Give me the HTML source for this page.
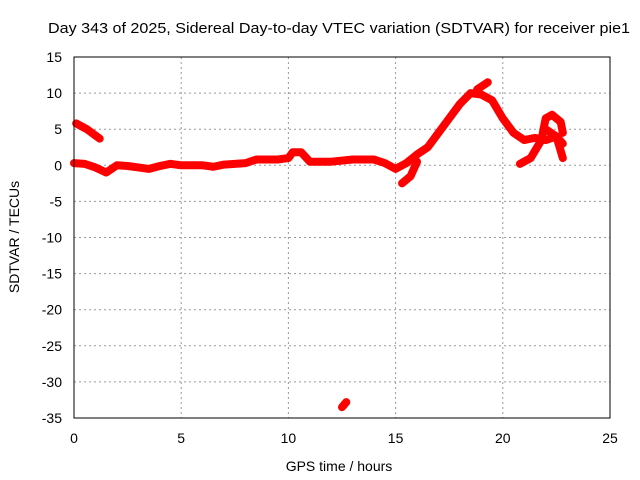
<!DOCTYPE html>
<html><head><meta charset="utf-8"><style>
body{margin:0;background:#fff}
svg{display:block;font-family:"Liberation Sans",sans-serif}
</style></head><body>
<svg id="chart" width="640" height="480">
<rect width="640" height="480" fill="#fff"/>
<text x="48" y="33" font-size="15" textLength="582" lengthAdjust="spacingAndGlyphs">Day 343 of 2025, Sidereal Day-to-day VTEC variation (SDTVAR) for receiver pie1</text>
<g id="grid"></g><g id="ticks"></g><g id="series"></g>
<rect x="74" y="57" width="536" height="361" fill="none" stroke="#000" stroke-width="1"/>
<text x="339" y="471" font-size="14" text-anchor="middle">GPS time / hours</text>
<text transform="translate(19,237) rotate(-90)" font-size="14" text-anchor="middle">SDTVAR / TECUs</text>
</svg>
<script>
const xTicks=[0,5,10,15,20,25];
const yTicks=[15,10,5,0,-5,-10,-15,-20,-25,-30,-35];
const mainTrace=[[0,0.3],[0.5,0.2],[1,-0.3],[1.5,-1],[2,0],[2.5,-0.1],[3,-0.3],[3.5,-0.5],[4,-0.1],[4.5,0.2],[5,0],[6,0],[6.5,-0.2],[7,0.1],[8,0.3],[8.5,0.8],[9.5,0.8],[10,1],[10.2,1.8],[10.6,1.8],[11,0.5],[12,0.5],[13,0.8],[14,0.8],[14.5,0.3],[15,-0.5],[15.5,0.3],[16,1.5],[16.5,2.5],[17,4.5],[17.5,6.5],[18,8.5],[18.5,10],[19,9.8],[19.5,9],[20,6.5],[20.5,4.5],[21,3.5],[21.5,3.8],[22,3.5],[22.5,4],[22.8,3]];
const dipBranch=[[15.3,-2.5],[15.7,-1.5],[16,0.5]];
const earlyBranch=[[0.1,5.8],[0.6,5],[1.2,3.7]];
const lateBranch1=[[20.8,0.2],[21.3,1],[21.8,3.5],[22,6.5],[22.3,7],[22.7,6],[22.8,4.5]];
const lateBranch2=[[22,5],[22.5,4],[22.8,1]];
const peakBranch=[[18.8,10.5],[19.3,11.5]];
const outlier=[[12.5,-33.5],[12.7,-32.8]];
const ns="http://www.w3.org/2000/svg";
const X=v=>74+v*536/25, Y=v=>57+(15-v)*361/50;
const grid=document.getElementById('grid'),ticks=document.getElementById('ticks'),ser=document.getElementById('series');
function mk(t,a,p){const e=document.createElementNS(ns,t);for(const k in a)e.setAttribute(k,a[k]);p.appendChild(e);return e;}
xTicks.forEach(t=>{
 if(t>0&&t<25){const g=mk('line',{x1:X(t),x2:X(t),y1:57,y2:418,stroke:'#999','stroke-dasharray':'2,3'},grid);
 
 }
 const tx=mk('text',{x:X(t),y:443,'font-size':14,'text-anchor':'middle'},ticks);tx.textContent=t;
 
 
});
yTicks.forEach(t=>{
 if(t<15&&t>-35){const g=mk('line',{x1:74,x2:610,y1:Y(t),y2:Y(t),stroke:'#999','stroke-dasharray':'2,3'},grid);
 
 }
 const tx=mk('text',{x:62,y:Y(t)+5,'font-size':14,'text-anchor':'end'},ticks);tx.textContent=t;
 
 
});
[mainTrace,dipBranch,earlyBranch,lateBranch1,lateBranch2,peakBranch,outlier].forEach((s,i)=>{
 const p=mk('polyline',{points:s.map(d=>X(d[0])+','+Y(d[1])).join(' '),fill:'none',stroke:'#f00','stroke-width':8,'stroke-linejoin':'round','stroke-linecap':'round'},ser);
 
 
});
</script>
</body></html>
